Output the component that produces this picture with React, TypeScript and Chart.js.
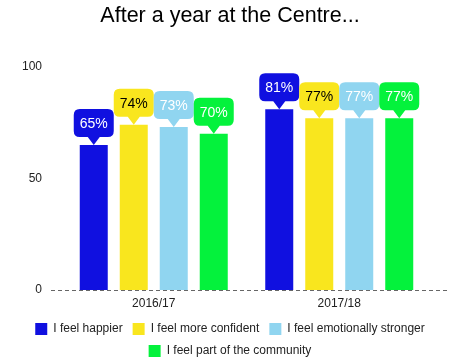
import React, { useEffect, useRef } from "react";
import { Chart, registerables } from "chart.js";

Chart.register(...registerables);

const categories = ["2016/17", "2017/18"];
const seriesNames = [
  "I feel happier",
  "I feel more confident",
  "I feel emotionally stronger",
  "I feel part of the community",
];
const happier = [65, 81];
const confident = [74, 77];
const stronger = [73, 77];
const community = [70, 77];
const colors = ["#1010e0", "#f9e61e", "#90d5f0", "#04f23c"];
const labelTextColors = ["#ffffff", "#000000", "#ffffff", "#ffffff"];
const yTicks = [0, 50, 100];

const FONT = "'Liberation Sans', Arial, sans-serif";

const calloutPlugin = {
  id: "callouts",
  afterDatasetsDraw(chart: any) {
    const ctx = chart.ctx;
    chart.data.datasets.forEach((ds: any, di: number) => {
      const meta = chart.getDatasetMeta(di);
      meta.data.forEach((bar: any, i: number) => {
        const x = bar.x;
        const y = bar.y;
        const w = 40;
        const h = 28;
        const ph = 8;
        const bottom = y - ph;
        const top = bottom - h;
        const left = x - w / 2;
        const r = 6;
        ctx.save();
        ctx.fillStyle = ds.backgroundColor;
        ctx.beginPath();
        ctx.moveTo(left + r, top);
        ctx.lineTo(left + w - r, top);
        ctx.quadraticCurveTo(left + w, top, left + w, top + r);
        ctx.lineTo(left + w, bottom - r);
        ctx.quadraticCurveTo(left + w, bottom, left + w - r, bottom);
        ctx.lineTo(x + 6, bottom);
        ctx.lineTo(x, y);
        ctx.lineTo(x - 6, bottom);
        ctx.lineTo(left + r, bottom);
        ctx.quadraticCurveTo(left, bottom, left, bottom - r);
        ctx.lineTo(left, top + r);
        ctx.quadraticCurveTo(left, top, left + r, top);
        ctx.closePath();
        ctx.fill();
        ctx.fillStyle = labelTextColors[di];
        ctx.font = `14px ${FONT}`;
        ctx.textAlign = "center";
        ctx.textBaseline = "middle";
        ctx.fillText(`${ds.data[i]}%`, x, top + h / 2 + 1);
        ctx.restore();
      });
    });
  },
};

const baselinePlugin = {
  id: "baseline",
  afterDatasetsDraw(chart: any) {
    const ctx = chart.ctx;
    const y = chart.scales.y.getPixelForValue(0);
    ctx.save();
    ctx.strokeStyle = "#666666";
    ctx.lineWidth = 1;
    ctx.setLineDash([4, 3]);
    ctx.beginPath();
    ctx.moveTo(51, Math.round(y) + 0.5);
    ctx.lineTo(447, Math.round(y) + 0.5);
    ctx.stroke();
    ctx.restore();
  },
};

export default function App() {
  const ref = useRef<HTMLCanvasElement>(null);
  useEffect(() => {
    if (!ref.current) return;
    const values = [happier, confident, stronger, community];
    const chart = new Chart(ref.current, {
      type: "bar",
      data: {
        labels: categories,
        datasets: values.map((v, i) => ({
          label: seriesNames[i],
          data: v,
          backgroundColor: colors[i],
          borderWidth: 0,
          categoryPercentage: 0.8625,
          barPercentage: 0.7,
        })),
      },
      options: {
        animation: false,
        responsive: false,
        layout: { padding: { left: 0, right: 0, top: 0, bottom: -4 } },
        plugins: {
          title: {
            display: true,
            text: "After a year at the Centre...",
            color: "#000000",
            font: { family: FONT, size: 21.5, weight: "normal" },
            padding: { top: 3, bottom: 38 },
          },
          legend: {
            position: "bottom",
            labels: {
              boxWidth: 12,
              boxHeight: 12,
              padding: 10,
              color: "#222222",
              font: { family: FONT, size: 12 },
            },
          },
          tooltip: { enabled: false },
        },
        scales: {
          x: {
            grid: { display: false, drawTicks: false, tickLength: 0 },
            border: { display: false },
            ticks: {
              color: "#222222",
              padding: 6,
              font: { family: FONT, size: 12 },
            },
            afterFit: (s: any) => {
              s.height = 23;
            },
          },
          y: {
            min: 0,
            max: 100,
            afterBuildTicks: (s: any) => {
              s.ticks = yTicks.map((v) => ({ value: v }));
            },
            grid: { display: false, drawTicks: false, tickLength: 0 },
            border: { display: false },
            ticks: {
              color: "#222222",
              padding: 19,
              font: { family: FONT, size: 12 },
            },
            afterFit: (s: any) => {
              s.width = 61;
            },
          },
          y2: {
            position: "right",
            min: 0,
            max: 100,
            grid: { display: false, drawTicks: false, tickLength: 0 },
            border: { display: false },
            ticks: { display: false },
            afterFit: (s: any) => {
              s.width = 28;
            },
          },
        },
      },
      plugins: [baselinePlugin, calloutPlugin],
    });
    return () => chart.destroy();
  }, []);
  return (
    <div style={{ position: "absolute", left: 0, top: 0, width: 460, height: 363, background: "#fff" }}>
      <canvas ref={ref} width={460} height={363} />
    </div>
  );
}
